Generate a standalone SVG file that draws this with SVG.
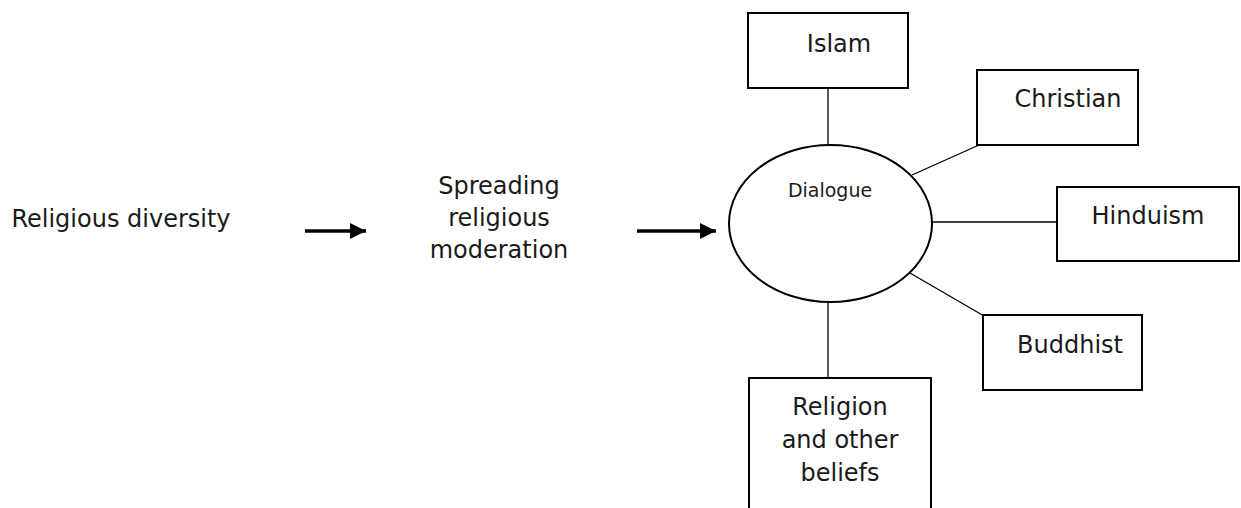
<svg xmlns="http://www.w3.org/2000/svg" width="1241" height="508" viewBox="0 0 1241 508">
  <style>
    .box { fill: #ffffff; stroke: #000000; stroke-width: 2; }
    .ell { fill: #ffffff; stroke: #000000; stroke-width: 2; }
    .link { stroke: #000000; stroke-width: 1.3; fill: none; }
    .arrow { stroke: #000000; stroke-width: 3.5; fill: none; }
    .lbl { font-family: "DejaVu Sans", "Liberation Sans", sans-serif; font-size: 24px; fill: #1a1a1a; text-anchor: middle; }
    .small { font-size: 19px; }
  </style>
  <defs>
    <marker id="head" markerUnits="userSpaceOnUse" markerWidth="18" markerHeight="16" refX="16" refY="8" orient="auto">
      <polygon points="0,0 16,8 0,16" fill="#000000"/>
    </marker>
  </defs>
  <rect x="0" y="0" width="1241" height="508" fill="#ffffff"/>

  <g id="connectors">
    <line class="arrow" x1="305" y1="231" x2="366" y2="231" marker-end="url(#head)"/>
    <line class="arrow" x1="637" y1="231" x2="716" y2="231" marker-end="url(#head)"/>
    <line class="link" x1="828" y1="88" x2="828" y2="145"/>
    <line class="link" x1="912" y1="175" x2="979" y2="145"/>
    <line class="link" x1="932" y1="222" x2="1057" y2="222"/>
    <line class="link" x1="910" y1="273" x2="984" y2="316"/>
    <line class="link" x1="828" y1="302" x2="828" y2="378"/>
  </g>

  <g id="religious-diversity">
    <text class="lbl" x="121" y="227">Religious diversity</text>
  </g>

  <g id="spreading-moderation">
    <text class="lbl" x="499" y="194">Spreading</text>
    <text class="lbl" x="499" y="226">religious</text>
    <text class="lbl" x="499" y="258">moderation</text>
  </g>

  <g id="dialogue">
    <ellipse class="ell" cx="830.5" cy="223.5" rx="101.5" ry="78.5"/>
    <text class="lbl small" x="830" y="197">Dialogue</text>
  </g>

  <g id="islam">
    <rect class="box" x="748" y="13" width="160" height="75"/>
    <text class="lbl" x="839" y="52">Islam</text>
  </g>

  <g id="christian">
    <rect class="box" x="977" y="70" width="161" height="75"/>
    <text class="lbl" x="1068" y="107">Christian</text>
  </g>

  <g id="hinduism">
    <rect class="box" x="1057" y="187" width="182" height="74"/>
    <text class="lbl" x="1148" y="224">Hinduism</text>
  </g>

  <g id="buddhist">
    <rect class="box" x="983" y="315" width="159" height="75"/>
    <text class="lbl" x="1070" y="353">Buddhist</text>
  </g>

  <g id="religion-other-beliefs">
    <rect class="box" x="749" y="378" width="182" height="140"/>
    <text class="lbl" x="840" y="415">Religion</text>
    <text class="lbl" x="840" y="448">and other</text>
    <text class="lbl" x="840" y="481">beliefs</text>
  </g>
</svg>
